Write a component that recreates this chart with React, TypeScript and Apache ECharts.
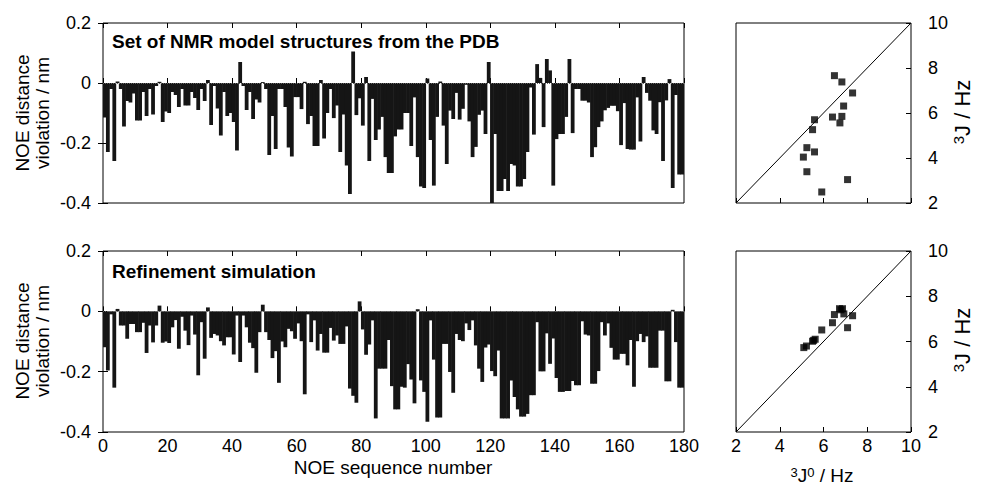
import React, { useEffect, useRef } from "react";
import * as echarts from "echarts";

// NOE distance violations (nm), NOE sequence numbers 1..180
const nmrViolations = [
  -0.115, -0.23, -0.02, -0.26, 0.005, -0.02, -0.145, -0.06, -0.065, -0.035,
  -0.125, -0.125, -0.03, -0.11, -0.02, -0.105, -0.01, 0.004, -0.13, -0.095,
  -0.1, -0.03, -0.04, -0.08, -0.02, -0.075, -0.075, -0.03, -0.05, -0.09,
  -0.02, -0.06, 0.01, -0.14, -0.01, -0.085, -0.175, -0.03, -0.11, -0.1,
  -0.13, -0.225, 0.07, -0.01, -0.09, -0.03, -0.12, -0.055, -0.065, 0.003,
  -0.02, -0.24, -0.11, -0.22, -0.02, -0.02, -0.08, -0.215, -0.245, -0.047,
  -0.047, -0.087, 0.004, -0.137, -0.11, -0.21, -0.21, 0.01, -0.185, -0.1,
  -0.02, -0.117, -0.075, -0.23, -0.105, -0.275, -0.37, 0.105, -0.107, -0.051,
  -0.142, 0.02, -0.26, -0.053, -0.19, -0.155, -0.113, -0.247, -0.3, -0.3,
  -0.178, -0.155, -0.155, -0.1, -0.1, -0.21, -0.048, -0.247, -0.345, -0.35,
  0.015, -0.19, -0.342, -0.113, 0.005, -0.142, -0.27, -0.092, -0.12, -0.033,
  -0.122, -0.086, -0.006, -0.128, -0.247, -0.213, -0.106, -0.092, -0.17, 0.07,
  -0.4, -0.17, -0.36, -0.36, -0.32, -0.36, -0.27, -0.275, -0.345, -0.345,
  -0.32, -0.23, -0.015, -0.172, 0.063, 0.017, -0.147, 0.08, 0.042, -0.342,
  -0.187, -0.17, -0.17, -0.113, 0.08, -0.167, -0.02, -0.02, -0.059, -0.059,
  -0.065, -0.247, -0.214, -0.147, -0.128, -0.091, -0.083, -0.076, -0.076, -0.094,
  -0.207, -0.067, -0.22, -0.222, -0.222, -0.048, -0.195, 0.02, -0.033, -0.059,
  -0.158, -0.17, -0.064, -0.26, -0.058, 0.013, -0.35, -0.04, -0.305, -0.305,
];

const refinedViolations = [
  -0.119, -0.196, -0.01, -0.253, 0.008, -0.047, -0.047, -0.091, -0.042, -0.042,
  -0.069, -0.069, -0.038, -0.138, -0.047, -0.103, -0.047, 0.019, -0.104, -0.1,
  -0.105, -0.053, -0.029, -0.124, -0.018, -0.064, -0.112, -0.014, -0.077, -0.212,
  -0.036, -0.157, 0.013, -0.088, -0.075, -0.08, -0.099, -0.113, -0.086, -0.086,
  -0.143, -0.014, -0.168, -0.014, -0.053, -0.104, -0.122, -0.204, -0.069, 0.022,
  -0.069, -0.095, -0.155, -0.132, -0.237, -0.1, -0.119, -0.058, -0.066, -0.091,
  -0.04, -0.099, -0.275, -0.01, -0.102, -0.03, -0.13, -0.075, -0.137, -0.137,
  -0.055, -0.097, -0.08, -0.108, -0.108, -0.05, -0.256, -0.28, -0.303, 0.033,
  -0.06, -0.144, -0.11, -0.03, -0.355, -0.19, -0.19, -0.19, -0.095, -0.248,
  -0.325, -0.325, -0.25, -0.253, -0.175, -0.226, -0.305, 0.007, -0.229, -0.267,
  -0.366, -0.03, -0.16, -0.352, -0.352, -0.108, -0.108, -0.201, -0.27, -0.075,
  -0.095, -0.099, -0.04, -0.062, -0.03, -0.113, -0.19, -0.234, -0.12, -0.11,
  -0.198, -0.215, -0.13, -0.355, -0.355, -0.355, -0.229, -0.284, -0.325, -0.349,
  -0.349, -0.34, -0.278, -0.278, -0.036, -0.199, -0.199, -0.073, -0.174, -0.09,
  -0.221, -0.267, -0.267, -0.264, -0.264, -0.231, -0.245, -0.245, -0.033, -0.077,
  -0.08, -0.24, -0.24, -0.198, -0.036, -0.08, -0.04, -0.121, -0.16, -0.16,
  -0.141, -0.141, -0.179, -0.095, -0.25, -0.099, -0.075, -0.102, -0.083, -0.187,
  -0.187, -0.187, -0.064, -0.064, -0.232, -0.232, 0.005, -0.102, -0.253, -0.253,
];

// 3J couplings: PDB model structures
const pdbJ0 = [6.5, 6.84, 7.33, 6.92, 6.41, 6.84, 6.75, 5.59, 5.5, 5.24, 5.59, 5.08, 5.24, 7.1, 5.92];
const pdbJ = [7.66, 7.38, 6.89, 6.31, 5.82, 5.85, 5.56, 5.7, 5.26, 4.46, 4.27, 4.04, 3.39, 3.04, 2.49];

// 3J couplings: refinement simulation
const refJ0 = [5.1, 5.22, 5.5, 5.62, 5.92, 6.41, 6.5, 6.73, 6.87, 6.93, 7.33, 7.1, 5.55, 6.8];
const refJ = [5.73, 5.8, 6.01, 6.1, 6.51, 6.83, 7.19, 7.45, 7.45, 7.22, 7.14, 6.61, 6.05, 7.4];

const diagonal = [2, 10];

const noeTicks = { min: 0, max: 180, interval: 20 };
const violationTicks = { min: -0.4, max: 0.2, interval: 0.2 };
const jTicks = { min: 2, max: 10, interval: 2 };

const FONT = "'Liberation Sans', Arial, Helvetica, sans-serif";
const BAR = "#151515";

export default function App() {
  const ref = useRef<HTMLDivElement>(null);

  useEffect(() => {
    if (!ref.current) return;
    const chart = echarts.init(ref.current, undefined, { renderer: "svg" });

    const categories = nmrViolations.map((_, i) => String(i + 1));
    const tick = { show: true, inside: true, length: 5, lineStyle: { color: "#000", width: 1 } };
    const label = { show: true, color: "#000", fontSize: 18, fontFamily: FONT };
    const hidden = { show: false };
    const gridBase = { show: true, borderColor: "#000", borderWidth: 1, backgroundColor: "transparent" };

    const valueAxis = (gridIndex: number, position: string, ticks: any, showLabel: boolean, extraLabel: any = {}, withTick = true) => ({
      type: "value",
      gridIndex,
      position,
      ...ticks,
      axisLine: hidden,
      axisTick: withTick ? tick : hidden,
      axisLabel: showLabel ? { ...label, ...extraLabel } : hidden,
      splitLine: hidden,
    });

    const textEl = (text: string, x: number, y: number, opts: any = {}) => ({
      type: "text",
      x,
      y,
      rotation: opts.rotation || 0,
      silent: true,
      style: {
        text,
        fill: "#000",
        fontSize: opts.fontSize || 19,
        fontWeight: opts.fontWeight || "normal",
        fontFamily: FONT,
        align: opts.align || "center",
        verticalAlign: "middle",
        textAlign: opts.align || "center",
        textVerticalAlign: "middle",
        rich: opts.rich,
      },
    });

    const richJ = (size: number) => ({
      s: { fontSize: Math.round(size * 0.66), fontFamily: FONT, fill: "#000", verticalAlign: "top" },
      m: { fontSize: size, fontFamily: FONT, fill: "#000" },
    });

    const barSeries = (xAxisIndex: number, yAxisIndex: number, data: number[]) => ({
      type: "bar",
      xAxisIndex,
      yAxisIndex,
      data,
      barWidth: 3.8,
      barGap: "-100%",
      itemStyle: { color: BAR, borderWidth: 0 },
      markLine: {
        silent: true,
        symbol: "none",
        label: { show: false },
        lineStyle: { color: "#666", type: "dotted", width: 1 },
        data: [{ yAxis: 0 }],
      },
    });

    const option: any = {
      animation: false,
      backgroundColor: "#fff",
      grid: [
        { ...gridBase, left: 103, top: 23, width: 581, height: 180 },
        { ...gridBase, left: 103, top: 251, width: 581, height: 181 },
        { ...gridBase, left: 736, top: 23, width: 175, height: 180 },
        { ...gridBase, left: 736, top: 251, width: 175, height: 181 },
      ],
      xAxis: [
        { type: "category", gridIndex: 0, data: categories, show: false, boundaryGap: true },
        valueAxis(0, "bottom", noeTicks, false),
        valueAxis(0, "top", noeTicks, false),
        { type: "category", gridIndex: 1, data: categories, show: false, boundaryGap: true },
        valueAxis(1, "bottom", noeTicks, true, { margin: 5 }),
        valueAxis(1, "top", noeTicks, false),
        valueAxis(2, "bottom", jTicks, false),
        valueAxis(3, "bottom", jTicks, true, { margin: 5 }),
      ],
      yAxis: [
        valueAxis(0, "left", violationTicks, true, { margin: 12 }),
        valueAxis(0, "right", violationTicks, false),
        valueAxis(1, "left", violationTicks, true, { margin: 12 }),
        valueAxis(1, "right", violationTicks, false),
        valueAxis(2, "right", jTicks, true, { margin: 17 }),
        valueAxis(3, "right", jTicks, true, { margin: 17 }),
      ],
      series: [
        barSeries(0, 0, nmrViolations),
        barSeries(3, 2, refinedViolations),
        {
          type: "line",
          xAxisIndex: 6,
          yAxisIndex: 4,
          data: diagonal.map((v) => [v, v]),
          symbol: "none",
          lineStyle: { color: "#000", width: 1 },
        },
        {
          type: "scatter",
          xAxisIndex: 6,
          yAxisIndex: 4,
          data: pdbJ0.map((x, i) => [x, pdbJ[i]]),
          symbol: "rect",
          symbolSize: 7,
          itemStyle: { color: "#000" },
        },
        {
          type: "line",
          xAxisIndex: 7,
          yAxisIndex: 5,
          data: diagonal.map((v) => [v, v]),
          symbol: "none",
          lineStyle: { color: "#000", width: 1 },
        },
        {
          type: "scatter",
          xAxisIndex: 7,
          yAxisIndex: 5,
          data: refJ0.map((x, i) => [x, refJ[i]]),
          symbol: "rect",
          symbolSize: 7,
          itemStyle: { color: "#000" },
        },
      ],
      graphic: [
        textEl("NOE distance", 22, 113, { rotation: Math.PI / 2 }),
        textEl("violation / nm", 42, 113, { rotation: Math.PI / 2 }),
        textEl("NOE distance", 22, 341, { rotation: Math.PI / 2 }),
        textEl("violation / nm", 42, 341, { rotation: Math.PI / 2 }),
        textEl("NOE sequence number", 393, 467),
        textEl("Set of NMR model structures from the PDB", 112, 41, { align: "left", fontSize: 19, fontWeight: "bold" }),
        textEl("Refinement simulation", 112, 271, { align: "left", fontSize: 19, fontWeight: "bold" }),
        textEl("{s|3}{m|J / Hz}", 962, 112, { rotation: Math.PI / 2, rich: richJ(22) }),
        textEl("{s|3}{m|J / Hz}", 962, 340, { rotation: Math.PI / 2, rich: richJ(22) }),
        textEl("{s|3}{m|J}{s|0}{m| / Hz}", 822, 475, { rich: richJ(19) }),
      ],
    };

    chart.setOption(option);
    return () => chart.dispose();
  }, []);

  return (
    <div
      ref={ref}
      style={{ position: "fixed", left: 0, top: 0, width: 981, height: 484, background: "#fff" }}
    />
  );
}
